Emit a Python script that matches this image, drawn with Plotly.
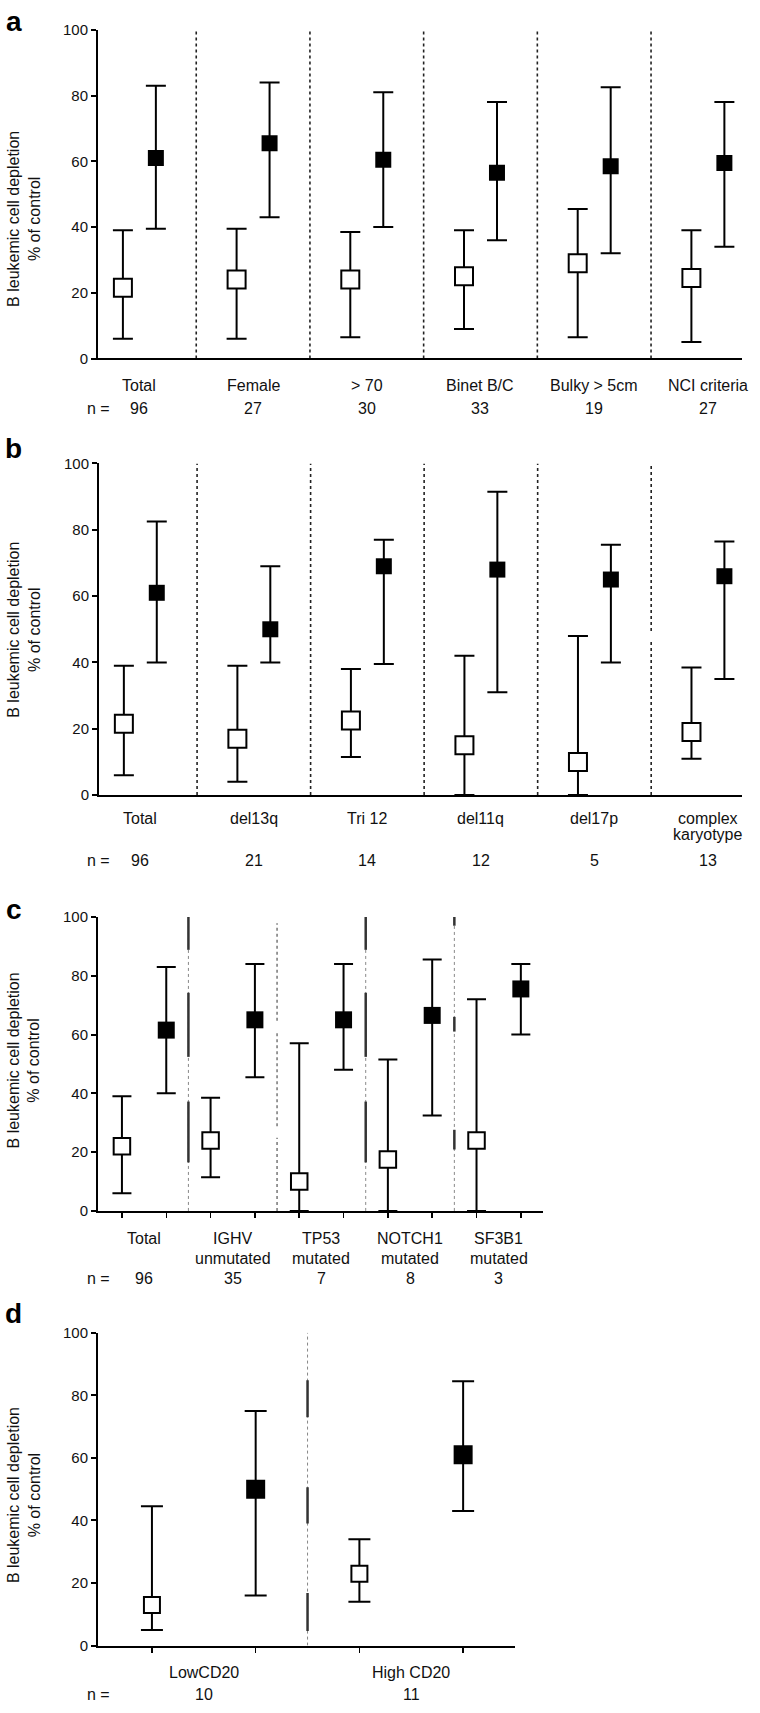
import plotly.graph_objects as go

# ---------------- data ----------------
a_labels = ["Total", "Female", "> 70", "Binet B/C", "Bulky > 5cm", "NCI criteria"]
a_n = ["96", "27", "30", "33", "19", "27"]
a_open_mean = [21.5, 24, 24, 25, 29, 24.5]
a_open_hi = [39, 39.5, 38.5, 39, 45.5, 39]
a_open_lo = [6, 6, 6.5, 9, 6.5, 5]
a_closed_mean = [61, 65.5, 60.5, 56.5, 58.5, 59.5]
a_closed_hi = [83, 84, 81, 78, 82.5, 78]
a_closed_lo = [39.5, 43, 40, 36, 32, 34]

b_labels = ["Total", "del13q", "Tri 12", "del11q", "del17p", "complex<br>karyotype"]
b_n = ["96", "21", "14", "12", "5", "13"]
b_open_mean = [21.5, 17, 22.5, 15, 10, 19]
b_open_hi = [39, 39, 38, 42, 48, 38.5]
b_open_lo = [6, 4, 11.5, 0, 0, 11]
b_closed_mean = [61, 50, 69, 68, 65, 66]
b_closed_hi = [82.5, 69, 77, 91.5, 75.5, 76.5]
b_closed_lo = [40, 40, 39.5, 31, 40, 35]

c_labels = ["Total", "IGHV<br>unmutated", "TP53<br>mutated", "NOTCH1<br>mutated", "SF3B1<br>mutated"]
c_n = ["96", "35", "7", "8", "3"]
c_open_mean = [22, 24, 10, 17.5, 24]
c_open_hi = [39, 38.5, 57, 51.5, 72]
c_open_lo = [6, 11.5, 0, 0, 0]
c_closed_mean = [61.5, 65, 65, 66.5, 75.5]
c_closed_hi = [83, 84, 84, 85.5, 84]
c_closed_lo = [40, 45.5, 48, 32.5, 60]

d_labels = ["LowCD20", "High CD20"]
d_n = ["10", "11"]
d_open_mean = [13, 23]
d_open_hi = [44.5, 34]
d_open_lo = [5, 14]
d_closed_mean = [50, 61]
d_closed_hi = [75, 84.5]
d_closed_lo = [16, 43]

y_ticks = [0, 20, 40, 60, 80, 100]
y_title = "B leukemic cell depletion<br>% of control"
panel_letters = ["a", "b", "c", "d"]

# ---------------- layout helpers ----------------
W, H = 760, 1713
FONT = "Liberation Sans, Arial, sans-serif"
TXT = "#111111"


def fx(p):
    return p / W


def fy(p):
    return 1 - p / H


panels = [
    dict(labels=a_labels, n=a_n, om=a_open_mean, oh=a_open_hi, ol=a_open_lo,
         cm=a_closed_mean, ch=a_closed_hi, cl=a_closed_lo,
         xdom=(98, 742), ydom=(21, 353), xr=(-0.364, 5.30), off=0.145, cap=10,
         so=18, sc=16, xticks=False, lab_y=380, lab_gap=16, n_y=403,
         letter_y=13, title_y=212),
    dict(labels=b_labels, n=b_n, om=b_open_mean, oh=b_open_hi, ol=b_open_lo,
         cm=b_closed_mean, ch=b_closed_hi, cl=b_closed_lo,
         xdom=(99, 742), ydom=(459, 794), xr=(-0.364, 5.30), off=0.145, cap=10,
         so=18, sc=16, xticks=False, lab_y=818, lab_gap=16, n_y=860,
         letter_y=444, title_y=627),
    dict(labels=c_labels, n=c_n, om=c_open_mean, oh=c_open_hi, ol=c_open_lo,
         cm=c_closed_mean, ch=c_closed_hi, cl=c_closed_lo,
         xdom=(98, 543), ydom=(917, 1214), xr=(-0.52, 4.5), off=0.25, cap=9.5,
         so=16.5, sc=17, xticks=True, lab_y=1242, lab_gap=20, n_y=1282,
         letter_y=910, title_y=1062),
    dict(labels=d_labels, n=d_n, om=d_open_mean, oh=d_open_hi, ol=d_open_lo,
         cm=d_closed_mean, ch=d_closed_hi, cl=d_closed_lo,
         xdom=(98, 515), ydom=(1337, 1653), xr=(-0.51, 1.5), off=0.25, cap=11,
         so=16, sc=19, xticks=True, lab_y=1680, lab_gap=20, n_y=1702,
         letter_y=1318, title_y=1501),
]

fig = go.Figure()
shapes = []
annotations = []
layout = {}

for k, p in enumerate(panels, start=1):
    xa = "x" if k == 1 else f"x{k}"
    ya = "y" if k == 1 else f"y{k}"
    xkey = "xaxis" if k == 1 else f"xaxis{k}"
    ykey = "yaxis" if k == 1 else f"yaxis{k}"
    ng = len(p["labels"])
    xo = [i - p["off"] for i in range(ng)]
    xc = [i + p["off"] for i in range(ng)]

    fig.add_trace(go.Scatter(
        x=xo, y=p["om"], xaxis=xa, yaxis=ya, mode="markers", showlegend=False,
        marker=dict(symbol="square", size=p["so"], color="white",
                    line=dict(color="black", width=2)),
        error_y=dict(type="data", symmetric=False,
                     array=[h - m for h, m in zip(p["oh"], p["om"])],
                     arrayminus=[m - lo for m, lo in zip(p["om"], p["ol"])],
                     color="black", thickness=2, width=p["cap"]),
        cliponaxis=True,
    ))
    fig.add_trace(go.Scatter(
        x=xc, y=p["cm"], xaxis=xa, yaxis=ya, mode="markers", showlegend=False,
        marker=dict(symbol="square", size=p["sc"], color="black",
                    line=dict(color="black", width=0)),
        error_y=dict(type="data", symmetric=False,
                     array=[h - m for h, m in zip(p["ch"], p["cm"])],
                     arrayminus=[m - lo for m, lo in zip(p["cm"], p["cl"])],
                     color="black", thickness=2, width=p["cap"]),
        cliponaxis=True,
    ))

    xaxis = dict(domain=[fx(p["xdom"][0]), fx(p["xdom"][1])], range=list(p["xr"]),
                 anchor=ya, showgrid=False, zeroline=False, showline=True,
                 linecolor="black", linewidth=2, showticklabels=False,
                 fixedrange=True, layer="above traces")
    if p["xticks"]:
        xaxis.update(tickmode="array", tickvals=sorted(xo + xc), ticks="outside",
                     ticklen=5, tickwidth=1.5, tickcolor="black")
    else:
        xaxis.update(ticks="")
    layout[xkey] = xaxis
    layout[ykey] = dict(domain=[fy(p["ydom"][1]), fy(p["ydom"][0])], range=[0, 100],
                        anchor=xa, showgrid=False, zeroline=False, showline=True,
                        linecolor="black", linewidth=2, tickmode="array",
                        tickvals=y_ticks, ticks="outside", ticklen=5, tickwidth=2,
                        tickcolor="black",
                        tickfont=dict(family=FONT, size=15, color=TXT),
                        fixedrange=True)

    # dividers
    def seg(x, y0, y1, dash="dot", width=1.6, color="#222"):
        shapes.append(dict(type="line", xref=xa, yref=ya, x0=x, x1=x, y0=y0, y1=y1,
                           line=dict(color=color, width=width, dash=dash), layer="below"))

    for i in range(ng - 1):
        xd = i + 0.5
        if k == 1:
            seg(xd, 0, 100)
        elif k == 2:
            if i == ng - 2:
                seg(xd, 0, 47)
                seg(xd, 49.5, 100)
            else:
                seg(xd, 0, 100)
        elif k == 3:
            if i in (0, 2):
                seg(xd, 0, 100, width=1, color="#888")
                for a0, a1 in [(88.8, 100), (52.4, 74.2), (16.5, 37.2)]:
                    seg(xd, a0, a1, dash="solid", width=2.5, color="#333")
            elif i == 1:
                for a0, a1 in [(0, 24.9), (28.8, 61.3), (64.7, 97.8)]:
                    seg(xd, a0, a1, width=1.5, color="#777")
            else:
                seg(xd, 0, 100, width=1, color="#888")
                for a0, a1 in [(97, 100), (61, 66), (20.9, 27.6)]:
                    seg(xd, a0, a1, dash="solid", width=2.5, color="#333")
        else:
            seg(xd, 0, 100, width=1, color="#888")
            for a0, a1 in [(73, 84.8), (39, 50.6), (4.7, 16.8)]:
                seg(xd, a0, a1, dash="solid", width=2.5, color="#333")

    # category labels
    for i, lab in enumerate(p["labels"]):
        for j, line in enumerate(lab.split("<br>")):
            annotations.append(dict(text=line, xref=xa, yref="paper", x=i,
                                    y=fy(p["lab_y"] + j * p["lab_gap"]),
                                    xanchor="center", yanchor="middle", showarrow=False,
                                    font=dict(family=FONT, size=16, color=TXT)))
    # n row
    annotations.append(dict(text="n =", xref="paper", yref="paper", x=fx(99),
                            y=fy(p["n_y"]), xanchor="center", yanchor="middle",
                            showarrow=False, font=dict(family=FONT, size=16, color=TXT)))
    for i, nv in enumerate(p["n"]):
        annotations.append(dict(text=nv, xref=xa, yref="paper", x=i, y=fy(p["n_y"]),
                                xanchor="center", yanchor="middle", showarrow=False,
                                font=dict(family=FONT, size=16, color=TXT)))
    # y title
    annotations.append(dict(text=y_title, xref="paper", yref="paper", x=fx(24),
                            y=fy(p["title_y"]), xanchor="center", yanchor="middle",
                            textangle=-90, showarrow=False,
                            font=dict(family=FONT, size=16, color=TXT)))
    # panel letter
    annotations.append(dict(text=f"<b>{panel_letters[k - 1]}</b>", xref="paper",
                            yref="paper", x=fx(14), y=fy(p["letter_y"]),
                            xanchor="center", yanchor="middle", showarrow=False,
                            font=dict(family=FONT, size=28, color="black")))

fig.update_layout(
    width=W, height=H, autosize=False,
    margin=dict(l=0, r=0, t=0, b=0),
    paper_bgcolor="white", plot_bgcolor="white",
    shapes=shapes, annotations=annotations,
    font=dict(family=FONT, color=TXT),
    **layout,
)

fig.write_html(
    "out.html",
    config=dict(displayModeBar=False, staticPlot=True),
    post_script="document.body.style.margin='0';document.body.style.overflow='hidden';",
)
